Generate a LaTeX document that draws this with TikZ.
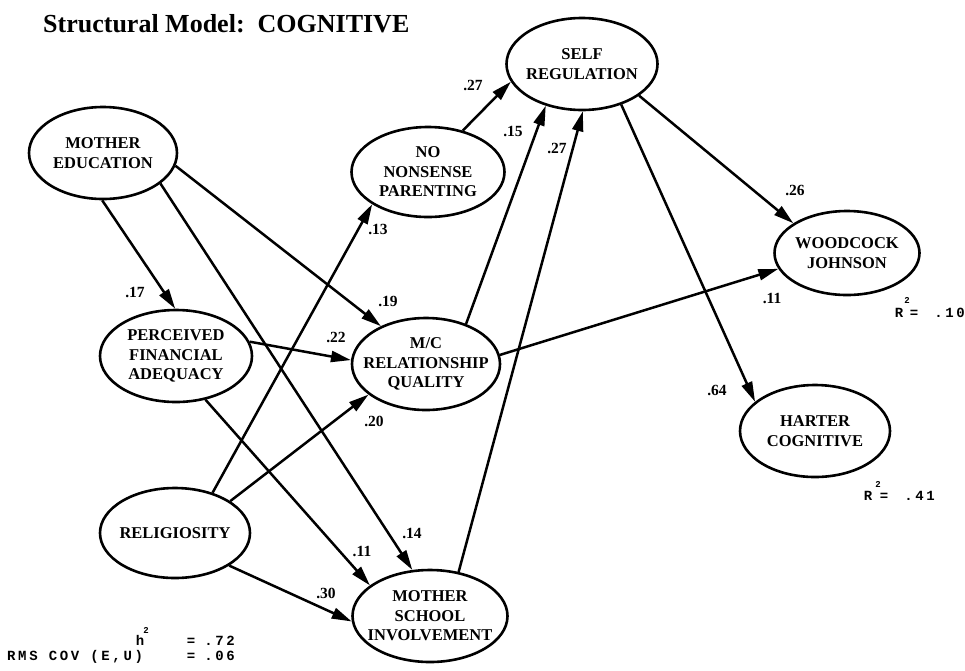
\documentclass[tikz,border=0pt]{standalone}
\usepackage{fontspec}
\setmainfont{Liberation Serif}
\newfontfamily\statfont[LetterSpace=19]{Liberation Mono}
\usetikzlibrary{shapes.geometric,arrows.meta}
\newcommand\nodefont{\fontsize{16.5}{19.5}\selectfont\bfseries}
\newcommand\labfont{\fontsize{15.5}{18}\selectfont\bfseries}
\newcommand\titlefont{\fontsize{26}{30}\selectfont\bfseries}
\newcommand\statsize{\fontsize{14}{17}\selectfont\statfont\bfseries}
\newcommand\supsize{\fontsize{9}{10}\selectfont\statfont\bfseries}
\begin{document}
\begin{tikzpicture}[x=1pt,y=-1pt,
  ell/.style={ellipse, draw, line width=2.6pt, minimum width=150pt, minimum height=92pt, inner sep=0pt},
  txt/.style={align=center, font=\nodefont, inner sep=0pt},
  conn/.style={line width=2.5pt, -{Triangle[length=20pt,width=11pt]}},
  lab/.style={font=\labfont, inner sep=0pt},
  stat/.style={font=\statsize, inner sep=0pt},
  supn/.style={font=\supsize, inner sep=0pt}]
\useasboundingbox (0,0) rectangle (965,670);

% title
\node[anchor=base west, font=\titlefont, inner sep=0pt] (title) at (43,32) {Structural Model:\ \ COGNITIVE};

% latent variables
\node[ell, minimum width=148pt] (me) at (103,153) {};
\node[txt] (me-t) at (me) {MOTHER\\EDUCATION};
\node[ell, minimum width=152pt] (pfa) at (176,356) {};
\node[txt] (pfa-t) at (pfa) {PERCEIVED\\FINANCIAL\\ADEQUACY};
\node[ell, minimum height=90pt] (rel) at (175,533) {};
\node[txt] (rel-t) at (rel) {RELIGIOSITY};
\node[ell, minimum width=153pt, minimum height=90pt] (nnp) at (428,172) {};
\node[txt] (nnp-t) at (nnp) {NO\\NONSENSE\\PARENTING};
\node[ell, minimum width=148pt] (mc) at (426,364) {};
\node[txt] (mc-t) at (mc) {M/C\\RELATIONSHIP\\QUALITY};
\node[ell, minimum width=155pt] (msi) at (430,616) {};
\node[txt] (msi-t) at (msi) {MOTHER\\SCHOOL\\INVOLVEMENT};
\node[ell, minimum width=151pt] (sr) at (582,64) {};
\node[txt] (sr-t) at (sr) {SELF\\REGULATION};
\node[ell, minimum width=145pt, minimum height=84pt] (wj) at (847,253) {};
\node[txt] (wj-t) at (wj) {WOODCOCK\\JOHNSON};
\node[ell] (hc) at (815,431) {};
\node[txt] (hc-t) at (hc) {HARTER\\COGNITIVE};

% paths
\draw[conn] (me.-91) -- (pfa.91);
\draw[conn] (me.-28) -- (msi.111);
\draw[conn] (me.-10) -- (mc.140);
\draw[conn] (pfa.11) -- (mc.177);
\draw[conn] (pfa.-56) -- (msi.153);
\draw[conn] (rel.47) -- (nnp.210);
\draw[conn] (rel.30) -- (mc.208);
\draw[conn] (rel.-31) -- (msi.184);
\draw[conn] (nnp.50) -- (sr.194);
\draw[conn] (mc.45) -- (sr.229);
\draw[conn] (msi.57) -- (sr.-89);
\draw[conn] (sr.-29) -- (wj.151);
\draw[conn] (sr.-46) -- (hc.154);
\draw[conn] (mc.7) -- (wj.193);

% coefficients
\node[lab] (l1) at (135,292) {.17};
\node[lab] (l2) at (412,533) {.14};
\node[lab] (l3) at (388,301) {.19};
\node[lab] (l4) at (336,337) {.22};
\node[lab] (l5) at (362,551) {.11};
\node[lab] (l6) at (378,229) {.13};
\node[lab] (l7) at (374,421) {.20};
\node[lab] (l8) at (326,593) {.30};
\node[lab] (l9) at (473,85) {.27};
\node[lab] (l10) at (513,131) {.15};
\node[lab] (l11) at (557,148) {.27};
\node[lab] (l12) at (795,190) {.26};
\node[lab] (l13) at (717,390) {.64};
\node[lab] (l14) at (772,298) {.11};

% fit statistics
\node[stat, anchor=base] (h) at (140,645) {h};
\node[supn, anchor=base] (h2) at (146,633) {2};
\node[stat, anchor=base] (heq) at (191,645) {=};
\node[stat, anchor=base east] (hval) at (235,645) {.72};
\node[stat, anchor=base west] (rms) at (7,660) {RMS COV (E,U)};
\node[stat, anchor=base] (rmseq) at (191,660) {=};
\node[stat, anchor=base east] (rmsval) at (235,660) {.06};

\node[stat, anchor=base] (r1) at (899,317) {R};
\node[supn, anchor=base] (r1s) at (907,303) {2};
\node[stat, anchor=base] (r1eq) at (914,317) {=};
\node[stat, anchor=base east] (r1val) at (965,317) {.10};

\node[stat, anchor=base] (r2) at (868,500) {R};
\node[supn, anchor=base] (r2s) at (878,487) {2};
\node[stat, anchor=base] (r2eq) at (884,500) {=};
\node[stat, anchor=base east] (r2val) at (935,500) {.41};
\end{tikzpicture}
\end{document}
